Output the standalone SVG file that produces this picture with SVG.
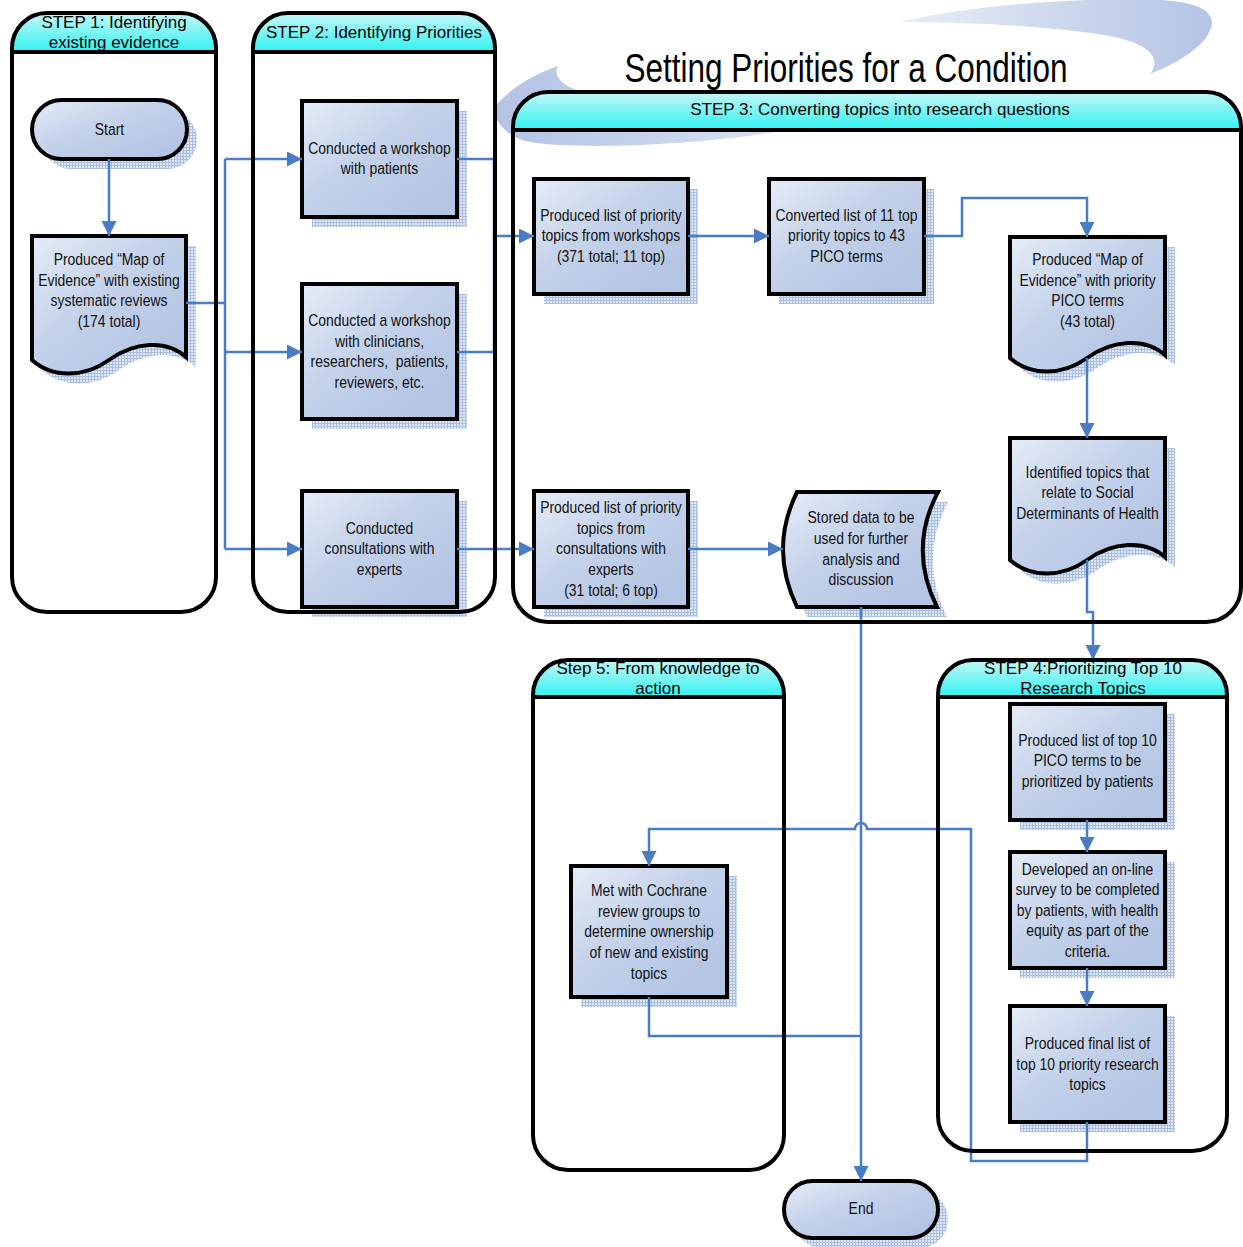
<svg xmlns="http://www.w3.org/2000/svg" width="1243" height="1247" viewBox="0 0 1243 1247">
<style>
.lane{fill:none;stroke:#000;stroke-width:4}
.hdr{fill:url(#hdrGrad)}
.hl{stroke:#000;stroke-width:4}
.ht{font-family:"Liberation Sans",Arial,sans-serif;font-size:17px;text-anchor:middle;fill:#000}
.node{fill:url(#nodeGrad);stroke:#000;stroke-width:4}
.shadow{fill:url(#sp)}
.nt{font-family:"Liberation Sans",Arial,sans-serif;font-size:17px;text-anchor:middle;fill:#111}
.conn{fill:none;stroke:#4a7bc5;stroke-width:2.5}
.arr{marker-end:url(#arrow)}
</style>
<defs>
<linearGradient id="nodeGrad" x1="0" y1="0" x2="0.85" y2="0.85">
<stop offset="0" stop-color="#e6ecf7"/><stop offset="0.5" stop-color="#c4d2ea"/><stop offset="1" stop-color="#b4c5e3"/>
</linearGradient>
<linearGradient id="hdrGrad" x1="0" y1="0" x2="0" y2="1">
<stop offset="0" stop-color="#c6f7f7"/><stop offset="1" stop-color="#30f2f2"/>
</linearGradient>
<linearGradient id="swL" x1="0" y1="0" x2="1" y2="0">
<stop offset="0" stop-color="#b3c3e4"/><stop offset="1" stop-color="#dbe3f2"/>
</linearGradient>
<linearGradient id="swR" x1="0" y1="0" x2="1" y2="0">
<stop offset="0" stop-color="#e8edf7"/><stop offset="1" stop-color="#b4c4e4"/>
</linearGradient>
<pattern id="sp" width="3" height="3" patternUnits="userSpaceOnUse">
<rect width="3" height="3" fill="#e1e8f5"/><rect width="3" height="1" fill="#aabee4"/><rect width="1" height="3" fill="#aabee4"/>
</pattern>
<marker id="arrow" viewBox="0 0 10 10" refX="10" refY="5" markerWidth="15" markerHeight="15" markerUnits="userSpaceOnUse" orient="auto">
<path d="M0,0 L10,5 L0,10 Z" fill="#4a7bc5"/>
</marker>
</defs>

<g id="swoosh">
<path d="M497,104 C515,85 535,74 558,66 C552,78 565,88 590,94 L800,128 C700,146 580,150 530,142 C505,137 490,118 497,104 Z" fill="url(#swL)"/>
<path d="M900,22 C970,5 1080,-3 1160,0 C1200,2 1216,12 1211,28 C1205,46 1180,62 1150,74 C1162,58 1150,44 1110,36 C1050,26 970,22 900,22 Z" fill="url(#swR)"/>
</g>

<text id="title" x="846" y="82" font-family="'Liberation Sans',Arial,sans-serif" font-size="41" text-anchor="middle" textLength="443" lengthAdjust="spacingAndGlyphs" fill="#000">Setting Priorities for a Condition</text>

<g id="n-start">
<rect class="shadow" x="42" y="110" width="155" height="59" rx="29.5"/>
<rect class="node" x="32" y="100" width="155" height="59" rx="29.5"/>
<text class="nt" transform="translate(109.5 0) scale(0.82 1)"><tspan x="0" y="135">Start</tspan></text>
</g>
<g id="n-map1">
<path class="shadow" transform="translate(10 10)" d="M32,236 H186 V357 C166,339 134,342 109,360 C84,378 52,378 32,360 Z"/>
<path class="node" d="M32,236 H186 V357 C166,339 134,342 109,360 C84,378 52,378 32,360 Z"/>
<text class="nt" transform="translate(109 0) scale(0.82 1)"><tspan x="0" y="265">Produced “Map of</tspan><tspan x="0" y="286">Evidence” with existing</tspan><tspan x="0" y="306">systematic reviews</tspan><tspan x="0" y="327">(174 total)</tspan></text>
</g>
<g id="n-ws-patients">
<rect class="shadow" x="312" y="111" width="155" height="116"/>
<rect class="node" x="302" y="101" width="155" height="116"/>
<text class="nt" transform="translate(379.5 0) scale(0.82 1)"><tspan x="0" y="154">Conducted a workshop</tspan><tspan x="0" y="174">with patients</tspan></text>
</g>
<g id="n-ws-clin">
<rect class="shadow" x="312" y="294" width="155" height="135"/>
<rect class="node" x="302" y="284" width="155" height="135"/>
<text class="nt" transform="translate(379.5 0) scale(0.82 1)"><tspan x="0" y="326">Conducted a workshop</tspan><tspan x="0" y="347">with clinicians,</tspan><tspan x="0" y="367">researchers, &#160;patients,</tspan><tspan x="0" y="388">reviewers, etc.</tspan></text>
</g>
<g id="n-consult">
<rect class="shadow" x="312" y="501" width="155" height="116"/>
<rect class="node" x="302" y="491" width="155" height="116"/>
<text class="nt" transform="translate(379.5 0) scale(0.82 1)"><tspan x="0" y="534">Conducted</tspan><tspan x="0" y="554">consultations with</tspan><tspan x="0" y="575">experts</tspan></text>
</g>
<g id="n-list-ws">
<rect class="shadow" x="544" y="189" width="154" height="115"/>
<rect class="node" x="534" y="179" width="154" height="115"/>
<text class="nt" transform="translate(611 0) scale(0.82 1)"><tspan x="0" y="221">Produced list of priority</tspan><tspan x="0" y="241">topics from workshops</tspan><tspan x="0" y="262">(371 total; 11 top)</tspan></text>
</g>
<g id="n-convert">
<rect class="shadow" x="779" y="189" width="155" height="115"/>
<rect class="node" x="769" y="179" width="155" height="115"/>
<text class="nt" transform="translate(846.5 0) scale(0.82 1)"><tspan x="0" y="221">Converted list of 11 top</tspan><tspan x="0" y="241">priority topics to 43</tspan><tspan x="0" y="262">PICO terms</tspan></text>
</g>
<g id="n-map2">
<path class="shadow" transform="translate(10 10)" d="M1010,237 H1165 V355 C1145,337 1112,340 1087,358 C1062,376 1030,376 1010,358 Z"/>
<path class="node" d="M1010,237 H1165 V355 C1145,337 1112,340 1087,358 C1062,376 1030,376 1010,358 Z"/>
<text class="nt" transform="translate(1087.5 0) scale(0.82 1)"><tspan x="0" y="265">Produced “Map of</tspan><tspan x="0" y="286">Evidence” with priority</tspan><tspan x="0" y="306">PICO terms</tspan><tspan x="0" y="327">(43 total)</tspan></text>
</g>
<g id="n-sdh">
<path class="shadow" transform="translate(10 10)" d="M1010,438 H1165 V557 C1145,539 1112,542 1087,560 C1062,578 1030,578 1010,560 Z"/>
<path class="node" d="M1010,438 H1165 V557 C1145,539 1112,542 1087,560 C1062,578 1030,578 1010,560 Z"/>
<text class="nt" transform="translate(1087.5 0) scale(0.82 1)"><tspan x="0" y="478">Identified topics that</tspan><tspan x="0" y="498">relate to Social</tspan><tspan x="0" y="519">Determinants of Health</tspan></text>
</g>
<g id="n-list-consult">
<rect class="shadow" x="544" y="501" width="154" height="116"/>
<rect class="node" x="534" y="491" width="154" height="116"/>
<text class="nt" transform="translate(611 0) scale(0.82 1)"><tspan x="0" y="513">Produced list of priority</tspan><tspan x="0" y="534">topics from</tspan><tspan x="0" y="554">consultations with</tspan><tspan x="0" y="575">experts</tspan><tspan x="0" y="596">(31 total; 6 top)</tspan></text>
</g>
<g id="n-stored">
<path class="shadow" transform="translate(10 10)" d="M797,492 H938 Q908,549 937,607 H797 Q769,549 797,492 Z"/>
<path class="node" d="M797,492 H938 Q908,549 937,607 H797 Q769,549 797,492 Z"/>
<text class="nt" transform="translate(861 0) scale(0.82 1)"><tspan x="0" y="523">Stored data to be</tspan><tspan x="0" y="544">used for further</tspan><tspan x="0" y="565">analysis and</tspan><tspan x="0" y="585">discussion</tspan></text>
</g>
<g id="n-top10">
<rect class="shadow" x="1020" y="714" width="155" height="116"/>
<rect class="node" x="1010" y="704" width="155" height="116"/>
<text class="nt" transform="translate(1087.5 0) scale(0.82 1)"><tspan x="0" y="746">Produced list of top 10</tspan><tspan x="0" y="766">PICO terms to be</tspan><tspan x="0" y="787">prioritized by patients</tspan></text>
</g>
<g id="n-survey">
<rect class="shadow" x="1020" y="862" width="155" height="116"/>
<rect class="node" x="1010" y="852" width="155" height="116"/>
<text class="nt" transform="translate(1087.5 0) scale(0.82 1)"><tspan x="0" y="875">Developed an on-line</tspan><tspan x="0" y="895">survey to be completed</tspan><tspan x="0" y="916">by patients, with health</tspan><tspan x="0" y="936">equity as part of the</tspan><tspan x="0" y="957">criteria.</tspan></text>
</g>
<g id="n-final">
<rect class="shadow" x="1020" y="1016" width="155" height="116"/>
<rect class="node" x="1010" y="1006" width="155" height="116"/>
<text class="nt" transform="translate(1087.5 0) scale(0.82 1)"><tspan x="0" y="1049">Produced final list of</tspan><tspan x="0" y="1070">top 10 priority research</tspan><tspan x="0" y="1090">topics</tspan></text>
</g>
<g id="n-cochrane">
<rect class="shadow" x="581" y="876" width="156" height="131"/>
<rect class="node" x="571" y="866" width="156" height="131"/>
<text class="nt" transform="translate(649 0) scale(0.82 1)"><tspan x="0" y="896">Met with Cochrane</tspan><tspan x="0" y="917">review groups to</tspan><tspan x="0" y="937">determine ownership</tspan><tspan x="0" y="958">of new and existing</tspan><tspan x="0" y="979">topics</tspan></text>
</g>
<g id="n-end">
<rect class="shadow" x="794" y="1191" width="154" height="57" rx="28.5"/>
<rect class="node" x="784" y="1181" width="154" height="57" rx="28.5"/>
<text class="nt" transform="translate(861 0) scale(0.82 1)"><tspan x="0" y="1214">End</tspan></text>
</g>

<g id="connectors">
<path class="conn arr" d="M109,159 V236"/>
<path class="conn" d="M186,303 H225"/>
<path class="conn" d="M225,159 V549"/>
<path class="conn arr" d="M225,159 H302"/>
<path class="conn arr" d="M225,352 H302"/>
<path class="conn arr" d="M225,549 H302"/>
<path class="conn arr" d="M457,159 H494 V236 H534"/>
<path class="conn" d="M457,352 H494 V236"/>
<path class="conn arr" d="M457,549 H534"/>
<path class="conn arr" d="M688,236 H769"/>
<path class="conn arr" d="M924,236 H962 V198 H1087 V237"/>
<path class="conn arr" d="M1087,358 V438"/>
<path class="conn arr" d="M1087,560 V612 H1093 V660"/>
<path class="conn arr" d="M688,549 H783"/>
<path class="conn arr" d="M861,607 V1181"/>
<path class="conn arr" d="M1087,820 V852"/>
<path class="conn arr" d="M1087,968 V1006"/>
<path class="conn arr" d="M1087,1122 V1161 H971 V829 H867 A6,6 0 0 0 855,829 H649 V866"/>
<path class="conn" d="M649,997 V1036 H861"/>
</g>

<g id="lane1">
<path class="hdr" d="M12,52 V48 A35,35 0 0 1 47,13 H181 A35,35 0 0 1 216,48 V52 Z"/>
<rect class="lane" x="12" y="13" width="204" height="599" rx="35"/>
<line class="hl" x1="12" y1="52" x2="216" y2="52"/>
<text class="ht"><tspan x="114" y="28">STEP 1: Identifying</tspan><tspan x="114" y="48">existing evidence</tspan></text>
</g>
<g id="lane2">
<path class="hdr" d="M253,52 V48 A35,35 0 0 1 288,13 H460 A35,35 0 0 1 495,48 V52 Z"/>
<rect class="lane" x="253" y="13" width="242" height="599" rx="35"/>
<line class="hl" x1="253" y1="52" x2="495" y2="52"/>
<text class="ht" x="374" y="38">STEP 2: Identifying Priorities</text>
</g>
<g id="lane3">
<path class="hdr" d="M513,130 V127 A35,35 0 0 1 548,92 H1206 A35,35 0 0 1 1241,127 V130 Z"/>
<rect class="lane" x="513" y="92" width="728" height="530" rx="35"/>
<line class="hl" x1="513" y1="130" x2="1241" y2="130"/>
<text class="ht" x="880" y="115">STEP 3: Converting topics into research questions</text>
</g>
<g id="lane4">
<path class="hdr" d="M938,697 V695 A35,35 0 0 1 973,660 H1192 A35,35 0 0 1 1227,695 V697 Z"/>
<rect class="lane" x="938" y="660" width="289" height="491" rx="35"/>
<line class="hl" x1="938" y1="697" x2="1227" y2="697"/>
<text class="ht"><tspan x="1083" y="674">STEP 4:Prioritizing Top 10</tspan><tspan x="1083" y="694">Research Topics</tspan></text>
</g>
<g id="lane5">
<path class="hdr" d="M533,697 V695 A35,35 0 0 1 568,660 H749 A35,35 0 0 1 784,695 V697 Z"/>
<rect class="lane" x="533" y="660" width="251" height="510" rx="35"/>
<line class="hl" x1="533" y1="697" x2="784" y2="697"/>
<text class="ht"><tspan x="658" y="674">Step 5: From knowledge to</tspan><tspan x="658" y="694">action</tspan></text>
</g>
</svg>
